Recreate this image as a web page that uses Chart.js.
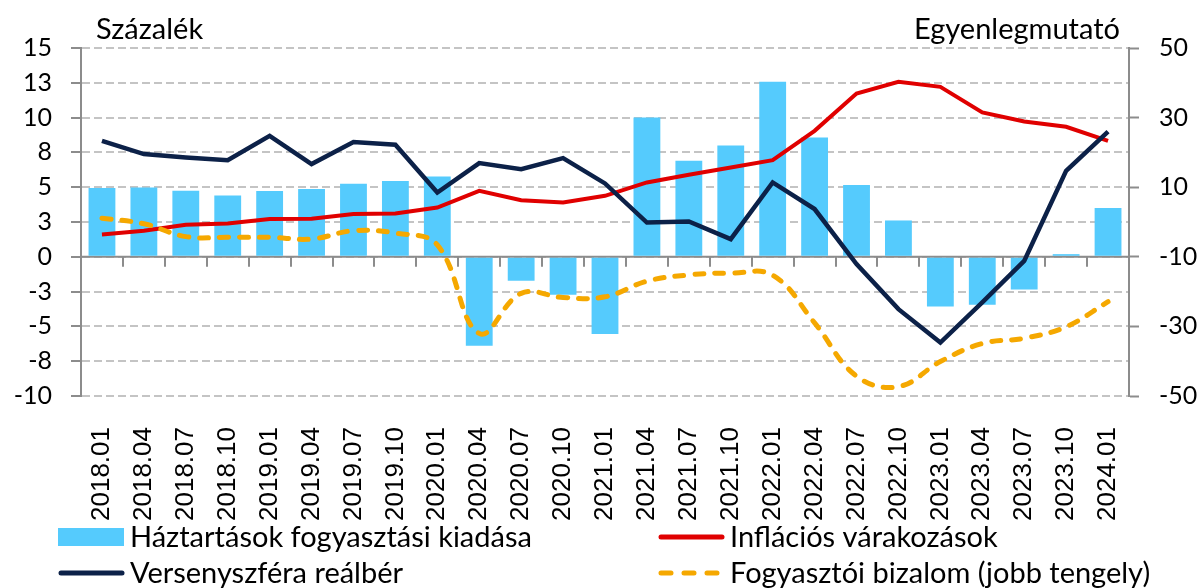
<!DOCTYPE html>
<html>
<head>
<meta charset="utf-8">
<script src="https://cdn.jsdelivr.net/npm/chart.js@4"></script>
<style>
  html, body { margin: 0; padding: 0; background: #fff; }
  #wrap { width: 1202px; height: 588px; }
</style>
</head>
<body>
<div id="wrap"><canvas id="chart" width="1202" height="588"></canvas></div>
<script>
// quarters on the category axis
const categories = ["2018.01","2018.04","2018.07","2018.10","2019.01","2019.04","2019.07","2019.10",
  "2020.01","2020.04","2020.07","2020.10","2021.01","2021.04","2021.07","2021.10",
  "2022.01","2022.04","2022.07","2022.10","2023.01","2023.04","2023.07","2023.10","2024.01"];

// left axis, percent
const spending = [4.95, 4.98, 4.75, 4.4, 4.72, 4.87, 5.24, 5.44, 5.77, -6.39, -1.72, -2.73, -5.55,
  10.0, 6.9, 8.0, 12.57, 8.57, 5.15, 2.61, -3.57, -3.45, -2.35, 0.19, 3.5];
const inflationExp = [1.6, 1.87, 2.3, 2.39, 2.71, 2.73, 3.07, 3.11, 3.54, 4.74, 4.07, 3.9, 4.38,
  5.34, 5.89, 6.42, 6.94, 9.05, 11.73, 12.57, 12.21, 10.37, 9.72, 9.34, 8.33];
const realWage = [8.33, 7.38, 7.14, 6.94, 8.69, 6.66, 8.24, 8.05, 4.62, 6.73, 6.3, 7.09, 5.27,
  2.46, 2.54, 1.27, 5.34, 3.43, -0.52, -3.76, -6.16, -3.28, -0.29, 6.18, 9.0];
// right axis, balance indicator
const confidence = [1.1, -0.5, -4.2, -4.4, -4.4, -4.9, -2.5, -3.2, -6.6, -32.0, -20.5, -21.7, -21.5,
  -17.0, -15.2, -14.7, -15.3, -29.0, -44.3, -47.3, -40.1, -34.9, -33.4, -30.1, -22.9];

const leftTicks = [-10, -7.5, -5, -2.5, 0, 2.5, 5, 7.5, 10, 12.5, 15];
const leftTickLabels = ["-10", "-8", "-5", "-3", "0", "3", "5", "8", "10", "13", "15"];
const rightTicks = [-50, -30, -10, 10, 30, 50];
const rightTickLabels = ["-50", "-30", "-10", "10", "30", "50"];

const legendItems = [
  { text: "Háztartások fogyasztási kiadása", type: "box", color: "#55CBFD" },
  { text: "Inflációs várakozások", type: "line", color: "#E00000" },
  { text: "Versenyszféra reálbér", type: "line", color: "#0C2148" },
  { text: "Fogyasztói bizalom (jobb tengely)", type: "dash", color: "#F5A800" }
];

const axisGrey = "#8C8C8C";
const tickFont = { family: "Lato", size: 25 };

const extras = {
  id: "extras",
  beforeDatasetsDraw(chart) {
    const { ctx, chartArea, scales } = chart;
    const y0 = scales.y.getPixelForValue(0);
    const step = scales.x.getPixelForValue(1) - scales.x.getPixelForValue(0);
    ctx.save();
    ctx.strokeStyle = axisGrey;
    ctx.lineWidth = 2;
    ctx.beginPath();
    ctx.moveTo(chartArea.left, y0);
    ctx.lineTo(chartArea.right, y0);
    for (let i = 1; i < categories.length; i++) {
      const x = Math.round(scales.x.getPixelForValue(i) - step / 2);
      ctx.moveTo(x, y0);
      ctx.lineTo(x, y0 + 10);
    }
    ctx.stroke();
    ctx.restore();
  },
  afterDraw(chart) {
    const { ctx, chartArea } = chart;
    ctx.save();
    ctx.fillStyle = "#000";
    ctx.font = "29px Lato";
    ctx.textBaseline = "middle";
    ctx.textAlign = "left";
    ctx.fillText("Százalék", chartArea.left + 15, chartArea.top - 18);
    ctx.textAlign = "right";
    ctx.fillText("Egyenlegmutató", chartArea.right - 9, chartArea.top - 18);

    // legend, two columns
    ctx.font = "29px Lato";
    ctx.textAlign = "left";
    legendItems.forEach((it, i) => {
      const x = i % 2 === 0 ? 58 : 658;
      const y = i < 2 ? 537 : 573;
      if (it.type === "box") {
        ctx.fillStyle = it.color;
        ctx.fillRect(x, y - 9, 66, 18);
      } else {
        ctx.strokeStyle = it.color;
        ctx.lineWidth = 5;
        ctx.lineCap = "round";
        ctx.setLineDash(it.type === "dash" ? [10, 13] : []);
        ctx.beginPath();
        ctx.moveTo(x + 3, y);
        ctx.lineTo(x + 64, y);
        ctx.stroke();
        ctx.setLineDash([]);
      }
      ctx.fillStyle = "#000";
      ctx.fillText(it.text, x + 72, y + 1);
    });
    ctx.restore();
  }
};

new Chart(document.getElementById("chart"), {
  data: {
    labels: categories,
    datasets: [
      {
        type: "line", label: legendItems[1].text, data: inflationExp, yAxisID: "y",
        borderColor: "#E00000", borderWidth: 4, pointRadius: 0, tension: 0, order: 3
      },
      {
        type: "line", label: legendItems[2].text, data: realWage, yAxisID: "y",
        borderColor: "#0C2148", borderWidth: 4.5, pointRadius: 0, tension: 0, order: 2
      },
      {
        type: "line", label: legendItems[3].text, data: confidence, yAxisID: "y1",
        borderColor: "#F5A800", borderWidth: 5, borderDash: [9, 11], borderCapStyle: "round",
        pointRadius: 0, tension: 0.4, order: 1
      },
      {
        type: "bar", label: legendItems[0].text, data: spending, yAxisID: "y",
        backgroundColor: "#55CBFD", barPercentage: 0.64, categoryPercentage: 1, order: 10
      }
    ]
  },
  options: {
    responsive: false,
    animation: false,
    devicePixelRatio: 1,
    layout: { padding: { top: 48, left: 0, right: 0, bottom: 0 } },
    plugins: { legend: { display: false }, tooltip: { enabled: false } },
    scales: {
      x: {
        type: "category",
        offset: true,
        grid: { display: false, drawTicks: false },
        border: { display: false },
        ticks: {
          autoSkip: false, minRotation: 90, maxRotation: 90, padding: 31,
          color: "#000", font: { family: "Liberation Sans", size: 26 }
        },
        afterFit(s) { s.height = 192; }
      },
      y: {
        position: "left",
        min: -10, max: 15,
        afterBuildTicks(s) { s.ticks = leftTicks.map(v => ({ value: v })); },
        ticks: {
          callback: (v, i) => leftTickLabels[i],
          padding: 19, color: "#000", font: tickFont
        },
        grid: {
          color: "#C4C4C4", lineWidth: 2, tickLength: 10, tickColor: axisGrey,
          tickWidth: 2, tickBorderDash: []
        },
        border: { display: true, color: axisGrey, width: 2, dash: [8, 4] },
        afterFit(s) { s.width = 81; }
      },
      y1: {
        position: "right",
        min: -50, max: 50,
        afterBuildTicks(s) { s.ticks = rightTicks.map(v => ({ value: v })); },
        ticks: {
          callback: (v, i) => rightTickLabels[i],
          padding: 20, color: "#000", font: tickFont
        },
        grid: { drawOnChartArea: false, tickLength: 10, tickColor: axisGrey, tickWidth: 2 },
        border: { display: true, color: axisGrey, width: 2 },
        afterFit(s) { s.width = 73; }
      }
    }
  },
  plugins: [extras]
});
</script>
</body>
</html>
